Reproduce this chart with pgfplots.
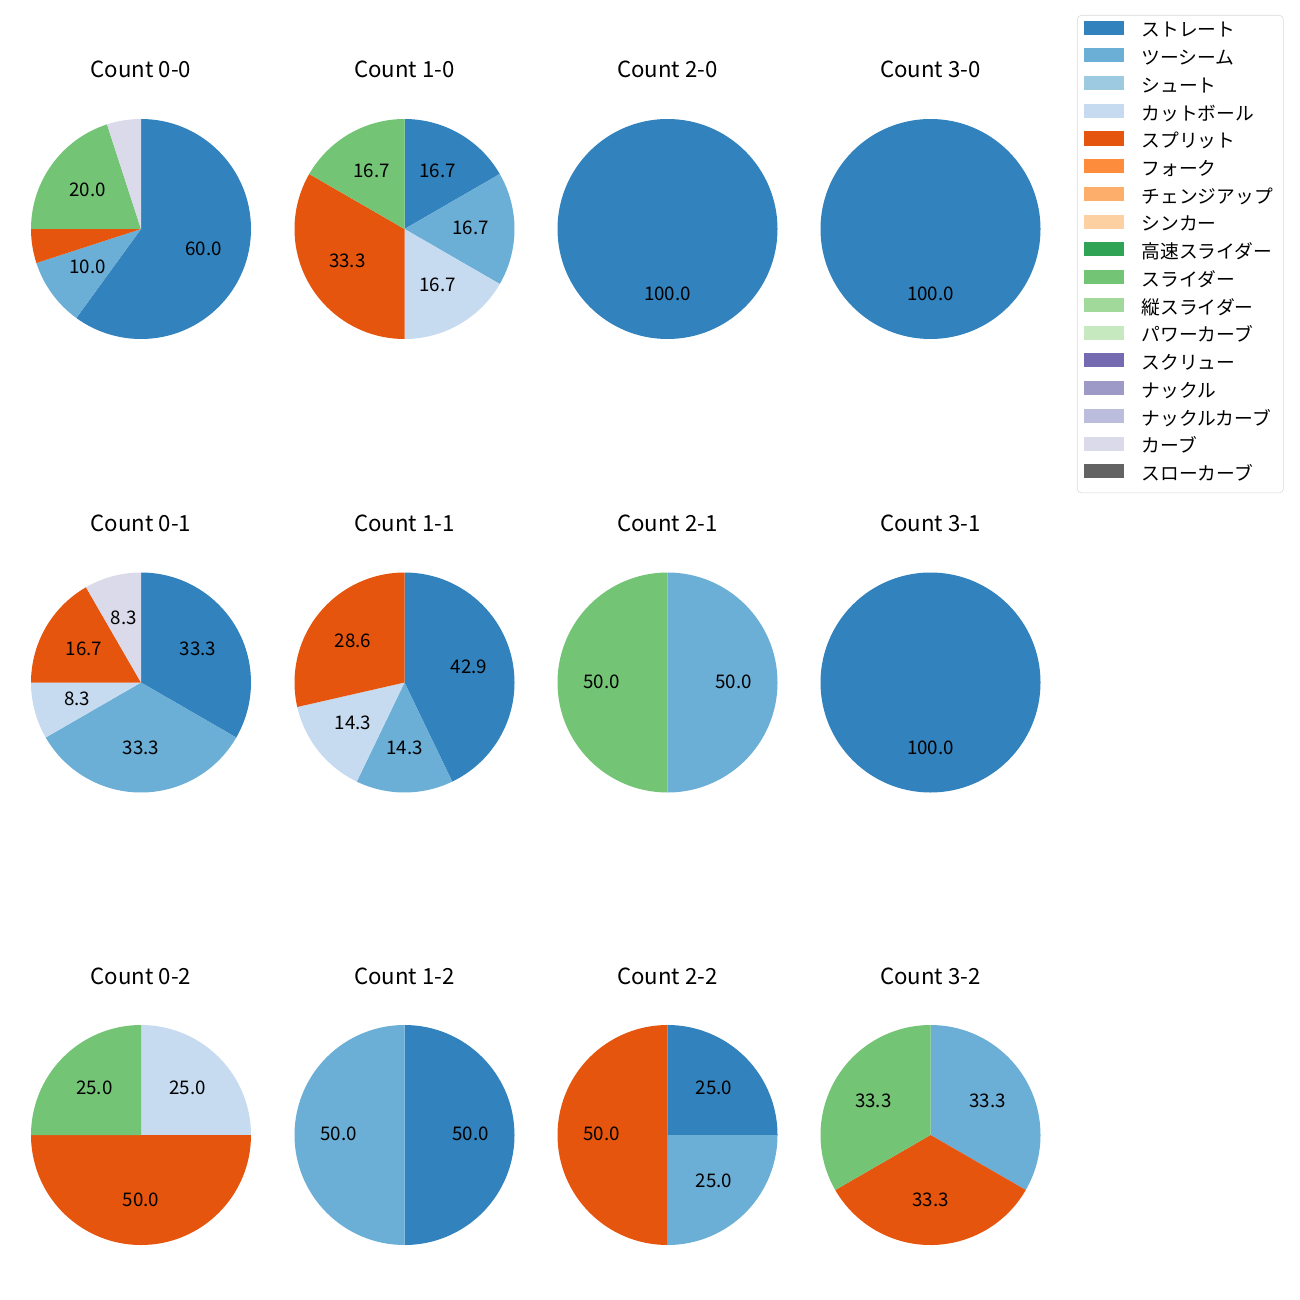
\documentclass[border=0pt]{standalone}
\usepackage{pgfplots}
\pgfplotsset{compat=1.18}
\usepackage{fontspec}
\setmainfont{Noto Sans CJK JP}
\definecolor{c1}{HTML}{3182BD}
\definecolor{c2}{HTML}{6BAED6}
\definecolor{c3}{HTML}{9ECAE1}
\definecolor{c4}{HTML}{C6DBEF}
\definecolor{c5}{HTML}{E6550D}
\definecolor{c6}{HTML}{FD8D3C}
\definecolor{c7}{HTML}{FDAE6B}
\definecolor{c8}{HTML}{FDD0A2}
\definecolor{c9}{HTML}{31A354}
\definecolor{c10}{HTML}{74C476}
\definecolor{c11}{HTML}{A1D99B}
\definecolor{c12}{HTML}{C7E9C0}
\definecolor{c13}{HTML}{756BB1}
\definecolor{c14}{HTML}{9E9AC8}
\definecolor{c15}{HTML}{BCBDDC}
\definecolor{c16}{HTML}{DADAEB}
\definecolor{c17}{HTML}{636363}
\def\u{0.72pt}
\def\pieR{79.2pt}
\newcommand{\titlefont}{\fontsize{16}{19}\selectfont}
\newcommand{\labfont}{\fontsize{13.5}{16}\selectfont}
\newcommand{\legfont}{\fontsize{13.5}{16}\selectfont}
% cumulative percent, percent, colour, label
\newcommand{\pslice}[4]{%
  \fill[#3] (axis cs:0,0) -- (axis cs:{cos(90-3.6*(#1))},{sin(90-3.6*(#1))})
    arc[start angle={90-3.6*(#1)}, end angle={90-3.6*((#1)+(#2))}, radius=\pieR] -- cycle;
  \node[font=\labfont, inner sep=0pt] at (axis cs:{0.6*cos(90-3.6*((#1)+(#2)/2))},{0.6*sin(90-3.6*((#1)+(#2)/2))+0.008}) {#4};
}
\newcommand{\pie}[4]{%
  \begin{axis}[pieax, at={({#1*\u},{-#2*\u})}, anchor=center]
  #4
  \node[font=\titlefont, anchor=base] at (axis cs:0,{151/110}) {#3};
  \end{axis}}
\pgfplotsset{
  pieax/.style={hide axis, scale only axis, width=158.4pt, height=158.4pt,
    xmin=-1, xmax=1, ymin=-1, ymax=1, clip=false},
  lg/.style={legend image code/.code={\fill[#1, sharp corners] (0pt,-1.2pt) rectangle (28pt,8.2pt);}}
}
\begin{document}
\begin{tikzpicture}
\path (0,0) rectangle ({1300*\u},{-1300*\u});
% Row 1
\pie{141}{229}{Count 0-0}{
  \pslice{0}{60}{c1}{60.0}
  \pslice{60}{10}{c2}{10.0}
  \pslice{70}{5}{c5}{}
  \pslice{75}{20}{c10}{20.0}
  \pslice{95}{5}{c16}{}
}
\pie{404.5}{229}{Count 1-0}{
  \pslice{0}{16.667}{c1}{16.7}
  \pslice{16.667}{16.667}{c2}{16.7}
  \pslice{33.333}{16.667}{c4}{16.7}
  \pslice{50}{33.333}{c5}{33.3}
  \pslice{83.333}{16.667}{c10}{16.7}
}
\pie{667.5}{229}{Count 2-0}{
  \pslice{0}{100}{c1}{100.0}
}
\pie{930.5}{229}{Count 3-0}{
  \pslice{0}{100}{c1}{100.0}
}
% Row 2
\pie{141}{682.5}{Count 0-1}{
  \pslice{0}{33.333}{c1}{33.3}
  \pslice{33.333}{33.333}{c2}{33.3}
  \pslice{66.667}{8.333}{c4}{8.3}
  \pslice{75}{16.667}{c5}{16.7}
  \pslice{91.667}{8.333}{c16}{8.3}
}
\pie{404.5}{682.5}{Count 1-1}{
  \pslice{0}{42.857}{c1}{42.9}
  \pslice{42.857}{14.286}{c2}{14.3}
  \pslice{57.143}{14.286}{c4}{14.3}
  \pslice{71.429}{28.571}{c5}{28.6}
}
\pie{667.5}{682.5}{Count 2-1}{
  \pslice{0}{50}{c2}{50.0}
  \pslice{50}{50}{c10}{50.0}
}
\pie{930.5}{682.5}{Count 3-1}{
  \pslice{0}{100}{c1}{100.0}
}
% Row 3
\pie{141}{1135}{Count 0-2}{
  \pslice{0}{25}{c4}{25.0}
  \pslice{25}{50}{c5}{50.0}
  \pslice{75}{25}{c10}{25.0}
}
\pie{404.5}{1135}{Count 1-2}{
  \pslice{0}{50}{c1}{50.0}
  \pslice{50}{50}{c2}{50.0}
}
\pie{667.5}{1135}{Count 2-2}{
  \pslice{0}{25}{c1}{25.0}
  \pslice{25}{25}{c2}{25.0}
  \pslice{50}{50}{c5}{50.0}
}
\pie{930.5}{1135}{Count 3-2}{
  \pslice{0}{33.333}{c2}{33.3}
  \pslice{33.333}{33.333}{c5}{33.3}
  \pslice{66.667}{33.333}{c10}{33.3}
}
% Legend
\begin{axis}[hide axis, scale only axis, width=10pt, height=10pt,
  xmin=0, xmax=1, ymin=0, ymax=1,
  at={({1077*\u},{-15*\u})}, anchor=north west,
  legend cell align=left,
  legend style={at={(0,1)}, anchor=north west, draw=black!15, rounded corners=3pt,
    font=\legfont, inner xsep=5pt, inner ysep=2.2pt, column sep=13pt, row sep=0pt,
    nodes={inner sep=0pt, text height=13.3pt, text depth=6.67pt, text width=97pt}}]
\addlegendimage{lg=c1}\addlegendentry{ストレート}
\addlegendimage{lg=c2}\addlegendentry{ツーシーム}
\addlegendimage{lg=c3}\addlegendentry{シュート}
\addlegendimage{lg=c4}\addlegendentry{カットボール}
\addlegendimage{lg=c5}\addlegendentry{スプリット}
\addlegendimage{lg=c6}\addlegendentry{フォーク}
\addlegendimage{lg=c7}\addlegendentry{チェンジアップ}
\addlegendimage{lg=c8}\addlegendentry{シンカー}
\addlegendimage{lg=c9}\addlegendentry{高速スライダー}
\addlegendimage{lg=c10}\addlegendentry{スライダー}
\addlegendimage{lg=c11}\addlegendentry{縦スライダー}
\addlegendimage{lg=c12}\addlegendentry{パワーカーブ}
\addlegendimage{lg=c13}\addlegendentry{スクリュー}
\addlegendimage{lg=c14}\addlegendentry{ナックル}
\addlegendimage{lg=c15}\addlegendentry{ナックルカーブ}
\addlegendimage{lg=c16}\addlegendentry{カーブ}
\addlegendimage{lg=c17}\addlegendentry{スローカーブ}
\end{axis}
\end{tikzpicture}
\end{document}
